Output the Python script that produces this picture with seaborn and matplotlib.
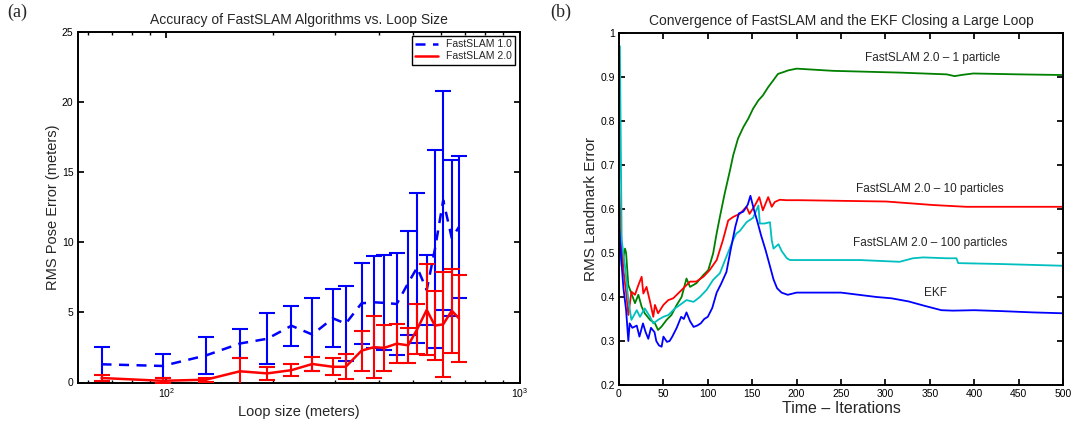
import matplotlib
matplotlib.use("Agg")
import matplotlib.pyplot as plt
import seaborn as sns
import numpy as np

# ---------------- data: panel (a) ----------------
loop_size = [65.5, 97.5, 129.4, 161.5, 193, 226, 259, 296, 322, 357,
             387, 414, 449, 484, 513, 546, 576, 608, 643, 674]
fs1_mean = [1.30, 1.18, 1.93, 2.78, 3.12, 4.05, 3.42, 4.58, 4.20, 5.65,
            5.72, 5.68, 5.60, 7.10, 8.20, 6.60, 9.50, 13.0, 10.3, 11.1]
fs1_err = [1.25, 0.87, 1.33, 1.03, 1.83, 1.43, 2.58, 2.07, 2.65, 2.90,
           3.28, 3.38, 3.65, 3.70, 5.35, 2.48, 7.06, 7.80, 5.55, 5.05]
fs2_mean = [0.32, 0.12, 0.20, 0.80, 0.65, 0.88, 1.32, 1.12, 1.12, 2.27,
            2.52, 2.47, 2.77, 2.65, 3.80, 5.18, 4.06, 4.15, 5.12, 4.57]
fs2_err = [0.22, 0.18, 0.15, 0.95, 0.45, 0.45, 0.48, 0.62, 0.88, 1.43,
           2.22, 1.63, 1.38, 1.25, 1.77, 3.25, 2.46, 3.75, 3.00, 3.09]

# ---------------- data: panel (b) ----------------
t_ekf = [0, 2, 5, 8, 10.5, 12, 15, 20, 23, 27, 30, 33, 36, 40, 42, 45, 48, 50,
         54, 57, 60, 65, 70, 73, 76, 80, 84, 88, 92, 96, 100, 105, 110, 115,
         121, 126, 131, 135, 140, 145, 148, 152, 156, 160, 165, 170, 174, 178,
         183, 190, 200, 215, 250, 290, 307, 326, 344, 363, 376, 400, 430, 466, 500]
v_ekf = [0.56, 0.50, 0.42, 0.37, 0.30, 0.34, 0.33, 0.335, 0.31, 0.34, 0.32, 0.305,
         0.33, 0.32, 0.30, 0.29, 0.287, 0.31, 0.298, 0.30, 0.31, 0.33, 0.355, 0.35,
         0.365, 0.345, 0.332, 0.335, 0.34, 0.35, 0.355, 0.375, 0.41, 0.43,
         0.457, 0.51, 0.56, 0.59, 0.594, 0.61, 0.63, 0.598, 0.57, 0.54, 0.507,
         0.47, 0.44, 0.42, 0.41, 0.405, 0.41, 0.41, 0.41, 0.40, 0.397, 0.39,
         0.38, 0.37, 0.369, 0.37, 0.368, 0.365, 0.363]

t_fs1p = [0, 3, 6.8, 8, 10.5, 14, 18, 21.8, 25.5, 29, 35, 40.5, 44, 48, 53.6,
          59, 65, 70.5, 76, 80, 87, 95, 100.5, 106, 110, 113.6, 119, 125,
          128.6, 134, 140, 145.5, 151, 157, 162, 168, 173.6, 179, 185, 190.5,
          200, 241, 316, 369, 378, 387, 399, 450, 500]
v_fs1p = [0.60, 0.47, 0.51, 0.50, 0.427, 0.408, 0.386, 0.405, 0.378, 0.363, 0.348,
          0.34, 0.325, 0.333, 0.348, 0.359, 0.382, 0.40, 0.442, 0.423, 0.431,
          0.45, 0.461, 0.499, 0.545, 0.582, 0.635, 0.688, 0.722, 0.76, 0.786,
          0.805, 0.828, 0.847, 0.858, 0.877, 0.892, 0.907, 0.911, 0.915,
          0.919, 0.914, 0.91, 0.906, 0.902, 0.905, 0.908, 0.906, 0.9045]

t_fs10p = [0, 2, 5, 8.6, 10.5, 14, 18, 21.8, 25.5, 27.4, 31, 35, 38.6, 40.5, 44,
           50, 55.5, 61, 68.6, 74, 80, 87, 95, 102, 110, 117, 123, 128.6, 136,
           143.6, 147, 153, 158, 162, 168, 172, 175.5, 181, 188.6, 204, 301,
           354, 391, 450, 500]
v_fs10p = [0.66, 0.55, 0.461, 0.40, 0.359, 0.412, 0.405, 0.427, 0.446, 0.408,
           0.423, 0.389, 0.355, 0.382, 0.363, 0.382, 0.393, 0.397, 0.412, 0.423,
           0.435, 0.435, 0.446, 0.461, 0.484, 0.529, 0.574, 0.582, 0.589,
           0.605, 0.589, 0.608, 0.627, 0.597, 0.627, 0.605, 0.616, 0.621,
           0.62, 0.62, 0.617, 0.609, 0.605, 0.605, 0.605]

t_fs100p = [0, 1, 3, 6.8, 10.5, 14, 20, 23.6, 29, 35, 38.6, 44, 50, 55.5, 63,
            68.6, 76, 84, 91, 98.6, 106, 113.6, 121, 128.6, 132, 136, 143.6,
            151, 157, 158.6, 164, 170, 172, 174, 179.6, 183, 189, 192.6, 215,
            271, 316, 331, 342.6, 369, 380, 382, 429, 500]
v_fs100p = [0.60, 0.97, 0.53, 0.469, 0.393, 0.348, 0.37, 0.355, 0.374, 0.355,
            0.34, 0.348, 0.355, 0.359, 0.374, 0.382, 0.393, 0.389, 0.40, 0.416,
            0.439, 0.454, 0.492, 0.53, 0.544, 0.55, 0.57, 0.58, 0.608, 0.567,
            0.567, 0.57, 0.529, 0.51, 0.52, 0.505, 0.488, 0.484, 0.484, 0.484,
            0.48, 0.488, 0.49, 0.488, 0.488, 0.477, 0.475, 0.471]

labels_b = ["FastSLAM 2.0 \u2013 1 particle", "FastSLAM 2.0 \u2013 10 particles",
            "FastSLAM 2.0 \u2013 100 particles", "EKF"]
label_t = [353, 350, 350, 356]
label_v = [0.944, 0.645, 0.522, 0.41]

# ---------------- style ----------------
sns.set_theme(style="ticks")
plt.rcParams["font.family"] = ["Liberation Sans", "DejaVu Sans"]
plt.rcParams.update({
    "xtick.direction": "in", "ytick.direction": "in",
    "xtick.top": True, "ytick.right": True,
    "axes.edgecolor": "black", "axes.linewidth": 1.4,
    "xtick.color": "black", "ytick.color": "black",
    "xtick.labelsize": 7.5, "ytick.labelsize": 7.5,
    "xtick.major.size": 4, "ytick.major.size": 4,
    "xtick.major.pad": 3, "ytick.major.pad": 3,
    "xtick.minor.size": 2, "xtick.minor.visible": False,
})

fig = plt.figure(figsize=(10.73, 4.21), dpi=100)
ax1 = fig.add_axes([77.5 / 1073, (421 - 382.5) / 421, 442 / 1073, 350.5 / 421])
ax2 = fig.add_axes([619 / 1073, (421 - 385) / 421, 444 / 1073, 352 / 421])

BLUE = (0, 0, 1)
RED = (1, 0, 0)
GREEN = (0, 0.5, 0)
CYAN = (0, 0.75, 0.75)

# ---- panel (a) ----
ax1.set_xscale("log")
ax1.errorbar(loop_size, fs1_mean, yerr=fs1_err, fmt="none", ecolor=BLUE,
             elinewidth=1.5, capsize=5.5, capthick=1.5, zorder=2)
sns.lineplot(x=loop_size, y=fs1_mean, ax=ax1, color=BLUE, lw=1.8,
             linestyle=(0, (4, 3)), estimator=None, label="FastSLAM 1.0", zorder=3)
ax1.errorbar(loop_size, fs2_mean, yerr=fs2_err, fmt="none", ecolor=RED,
             elinewidth=1.5, capsize=5.5, capthick=1.5, zorder=4)
sns.lineplot(x=loop_size, y=fs2_mean, ax=ax1, color=RED, lw=1.8,
             estimator=None, label="FastSLAM 2.0", zorder=5)
ax1.set_xlim(56, 1000)
ax1.set_ylim(0, 25)
ax1.set_yticks([0, 5, 10, 15, 20, 25])
ax1.tick_params(which="minor", direction="in", top=True, length=2.5)
ax1.set_title("Accuracy of FastSLAM Algorithms vs. Loop Size", fontsize=10, pad=6)
ax1.set_xlabel("Loop size (meters)", fontsize=10.5, labelpad=3)
ax1.set_ylabel("RMS Pose Error (meters)", fontsize=10.5, labelpad=1)
leg = ax1.legend(loc="upper right", fontsize=7.5, frameon=True, fancybox=False,
                 edgecolor="black", framealpha=1, borderpad=0.3, labelspacing=0.2,
                 handlelength=2.2, borderaxespad=0.4)
leg.get_frame().set_linewidth(1.0)

# ---- panel (b) ----
for tt, vv, col in [(t_fs1p, v_fs1p, GREEN), (t_fs10p, v_fs10p, RED),
                    (t_fs100p, v_fs100p, CYAN), (t_ekf, v_ekf, BLUE)]:
    sns.lineplot(x=tt, y=vv, ax=ax2, color=col, lw=1.3, estimator=None)
for s, tx, vy in zip(labels_b, label_t, label_v):
    ax2.text(tx, vy, s, fontsize=8.5, ha="center", va="center")
ax2.set_xlim(0, 500)
ax2.set_ylim(0.2, 1.0)
ax2.set_xticks(np.arange(0, 501, 50))
ax2.set_yticks([0.2, 0.3, 0.4, 0.5, 0.6, 0.7, 0.8, 0.9, 1.0])
ax2.set_yticklabels(["0.2", "0.3", "0.4", "0.5", "0.6", "0.7", "0.8", "0.9", "1"])
ax2.set_title("Convergence of FastSLAM and the EKF Closing a Large Loop",
              fontsize=10, pad=6)
ax2.set_xlabel("Time \u2013 Iterations", fontsize=11.5, labelpad=1)
ax2.set_ylabel("RMS Landmark Error", fontsize=11, labelpad=2)

for ax in (ax1, ax2):
    for sp in ax.spines.values():
        sp.set_visible(True)
        sp.set_color("black")

fig.text(7 / 1073, 1 - 12 / 421, "(a)", fontsize=13, va="center", ha="left",
         family=["Liberation Serif", "DejaVu Serif"])
fig.text(550 / 1073, 1 - 12 / 421, "(b)", fontsize=13, va="center", ha="left",
         family=["Liberation Serif", "DejaVu Serif"])

fig.savefig("out.png", dpi=100)
